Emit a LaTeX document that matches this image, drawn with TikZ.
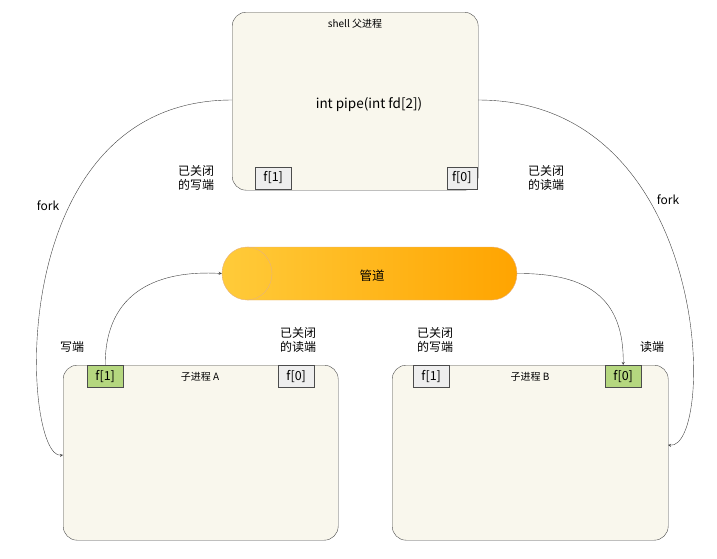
\documentclass[tikz,border=0pt]{standalone}
\usepackage{fontspec}
\setmainfont{Noto Sans CJK SC}
\usetikzlibrary{positioning}
\definecolor{procfill}{HTML}{F9F7ED}
\definecolor{fdgreen}{HTML}{B5D77F}
\definecolor{fdgray}{HTML}{EEEEEE}
\definecolor{pipeleft}{HTML}{FFCB3A}
\definecolor{piperight}{HTML}{FFA400}
\tikzset{
  proc/.style={draw=black!70, fill=procfill, rounded corners=14pt, anchor=north west, inner sep=0pt},
  fdbox/.style={draw=black!70, fill=fdgray, minimum width=36pt, minimum height=22pt, inner sep=0pt, font=\fontsize{12.5}{12.5}\selectfont},
  fdon/.style={fdbox, fill=fdgreen},
  lbl/.style={font=\fontsize{12}{14}\selectfont, align=center},
  link/.style={draw=black!75, ->, >=stealth}
}
\begin{document}
\begin{tikzpicture}[x=1pt,y=-1pt]
  \useasboundingbox (0,0) rectangle (717,558);
  % parent
  \node[proc, minimum width=246pt, minimum height=178pt] (parent) at (232,12) {};
  \node[lbl, font=\fontsize{10}{12}\selectfont] (parent_t) at (355,24) {shell 父进程};
  \node[font=\fontsize{13.5}{15}\selectfont] (pipecall) at (369,105) {int pipe(int fd[2])};
  \node[fdbox, anchor=south west] (p_f1) at (255,189) {f[1]};
  \node[fdbox, minimum width=30pt, anchor=south east] (p_f0) at (477,189) {f[0]};
  \node[lbl] (p_c1) at (196,178) {已关闭\\的写端};
  \node[lbl] (p_c0) at (546,178) {已关闭\\的读端};

  % pipe
  \shade[left color=pipeleft, right color=piperight, draw=orange!80!black!50]
    (247,247) -- (492,247) arc[start angle=-90, end angle=90, x radius=25, y radius=26.5]
    -- (247,300) arc[start angle=90, end angle=270, x radius=25, y radius=26.5] -- cycle;
  \draw[orange!80!black!50] (247,247) arc[start angle=-90, end angle=90, x radius=25, y radius=26.5];
  \node[minimum width=295pt, minimum height=53pt] (pipe) at (369.5,273.5) {};
  \node[lbl, font=\fontsize{12.5}{14}\selectfont] (pipe_t) at (372,276) {管道};

  % child A
  \node[proc, minimum width=275pt, minimum height=175pt] (childA) at (63,365) {};
  \node[lbl, font=\fontsize{10}{12}\selectfont] (childA_t) at (200,377) {子进程 A};
  \node[fdon, anchor=north west] (a_f1) at (87,365) {f[1]};
  \node[fdbox, anchor=north west] (a_f0) at (278,365) {f[0]};
  \node[lbl] (a_w) at (72,347) {写端};
  \node[lbl] (a_c0) at (298,340) {已关闭\\的读端};

  % child B
  \node[proc, minimum width=276pt, minimum height=175pt] (childB) at (392,365) {};
  \node[lbl, font=\fontsize{10}{12}\selectfont] (childB_t) at (530,377) {子进程 B};
  \node[fdbox, anchor=north west] (b_f1) at (413,365) {f[1]};
  \node[fdon, anchor=north west] (b_f0) at (605,365) {f[0]};
  \node[lbl] (b_c1) at (435,340) {已关闭\\的写端};
  \node[lbl] (b_r) at (652,347) {读端};

  % fork
  \coordinate (pl) at (232,100);
  \coordinate (pr) at (478,100);
  \coordinate (al) at (63,455);
  \coordinate (br) at (668,445);
  \draw[link] (pl) .. controls (0,100) and (22,460) .. (al);
  \draw[link] (pr) .. controls (715,100) and (716,450) .. (br);
  \node[lbl, fill=white, inner sep=1pt] (forkA) at (48,206) {fork};
  \node[lbl, fill=white, inner sep=1pt] (forkB) at (668,200) {fork};

  % pipe ends
  \draw[link] (a_f1.north) .. controls (105,290) and (160,270) .. (pipe.west);
  \draw[link] (pipe.east) .. controls (590,273) and (624,300) .. (b_f0.north);
\end{tikzpicture}
\end{document}
